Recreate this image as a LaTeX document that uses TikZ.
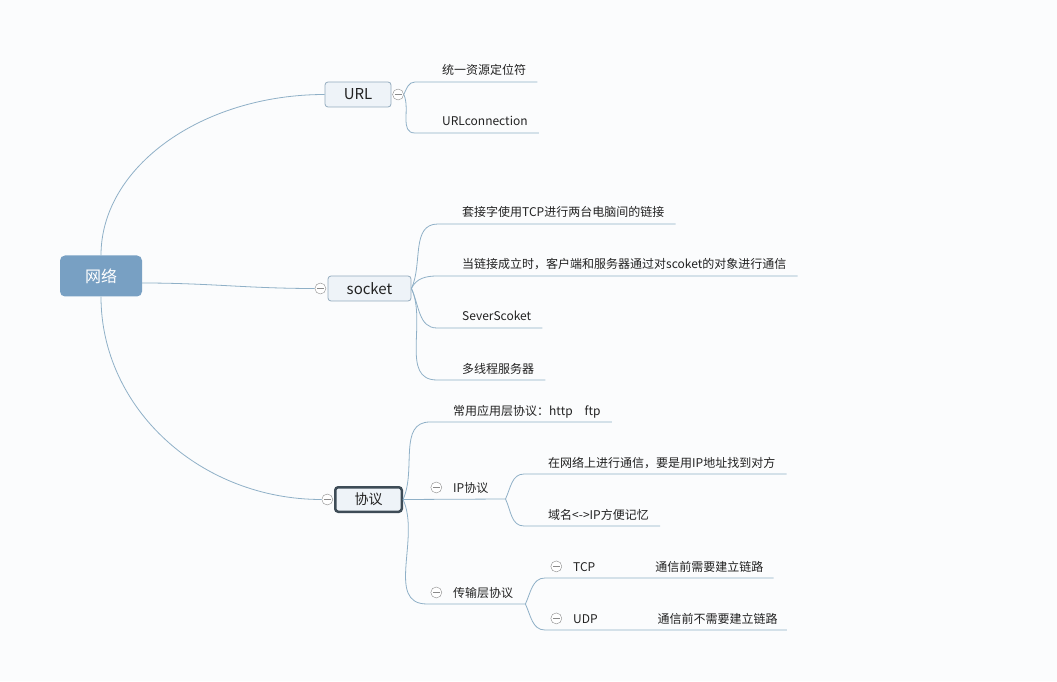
\documentclass[tikz,border=0pt]{standalone}
\usepackage{fontspec}
\setmainfont{Noto Sans CJK SC}
\usepackage{xcolor}
\usepackage{tikz}
\usetikzlibrary{positioning}

\definecolor{paper}{HTML}{FBFCFD}
\definecolor{linkline}{HTML}{8FB0C7}
\definecolor{rootfill}{HTML}{78A0C3}
\definecolor{topicfill}{HTML}{EEF3F8}
\definecolor{topicedge}{HTML}{93ABBE}
\definecolor{focusedge}{HTML}{3E4C57}
\definecolor{foldgray}{HTML}{8A8A8A}
\definecolor{leaftext}{HTML}{222222}

\begin{document}
\begin{tikzpicture}[x=1pt, y=1pt, font=\fontsize{12}{14}\selectfont,
  topic/.style={draw=topicedge, line width=0.8pt, fill=topicfill, rounded corners=3pt, inner sep=0pt,
    minimum height=25pt, text=leaftext, font=\fontsize{15}{18}\selectfont},
  leaf/.style={anchor=base west, inner sep=0pt, text=leaftext},
  foldmark/.style={circle, draw=foldgray, fill=white, inner sep=0pt, minimum size=11pt,
    path picture={\draw[foldgray, line width=0.7pt]
      ([xshift=-3.5pt]path picture bounding box.center) --
      ([xshift=3.5pt]path picture bounding box.center);}},
  twig/.style={draw=linkline, line width=0.8pt},
  rise/.style={out=65, in=180},
  sink/.style={out=-65, in=180}]
  \fill[paper] (0,0) rectangle (1057,681);
  \useasboundingbox (0,0) rectangle (1057,681);

  % centre and main topics
  \node[fill=rootfill, rounded corners=5pt, minimum width=82pt, minimum height=41pt,
    text=white, font=\fontsize{16}{19}\selectfont] (root) at (101,405) {网络};
  \node[topic, minimum width=66pt] (url) at (358,586.5) {URL};
  \node[topic, minimum width=83pt] (sock) at (369.5,392.5) {socket};
  \node[topic, draw=focusedge, line width=2.5pt, minimum width=66.5pt, minimum height=24.5pt,
    font=\fontsize{14}{17}\selectfont] (proto) at (368.5,181.5) {协议};
  \node[foldmark, right=1pt of url] (urlfold) {};
  \node[foldmark, left=1.5pt of sock] (sockfold) {};
  \node[foldmark, left=1pt of proto] (protofold) {};

  % URL
  \node[leaf] (u1) at (442,606) {统一资源定位符};
  \node[leaf] (u2) at (442,555) {URLconnection};
  % socket
  \node[leaf] (s1) at (462,464) {套接字使用TCP进行两台电脑间的链接};
  \node[leaf] (s2) at (462,412) {当链接成立时，客户端和服务器通过对scoket的对象进行通信};
  \node[leaf] (s3) at (462,360) {SeverScoket};
  \node[leaf] (s4) at (462,308) {多线程服务器};
  % 协议
  \node[leaf] (p1) at (453,266) {常用应用层协议：http　ftp};
  \node[leaf] (ip) at (453,189) {IP协议};
  \node[leaf] (i1) at (548,214) {在网络上进行通信，要是用IP地址找到对方};
  \node[leaf] (i2) at (548,162) {域名<->IP方便记忆};
  \node[leaf] (tr) at (453,84) {传输层协议};
  \node[leaf] (t1) at (573,110) {TCP\hspace*{60pt}通信前需要建立链路};
  \node[leaf] (t2) at (573,58) {UDP\hspace*{60pt}通信前不需要建立链路};
  \node[foldmark, left=11pt of ip] (ipfold) {};
  \node[foldmark, left=11pt of tr] (trfold) {};
  \node[foldmark, left=11pt of t1] (t1fold) {};
  \node[foldmark, left=11pt of t2] (t2fold) {};

  \draw[twig] (root.north) .. controls +(0,89) and +(-122,0) .. (url.west);
  \draw[twig] ([yshift=-7pt]root.east) to[out=0, in=180] (sockfold.west);
  \draw[twig] (root.south) .. controls +(0,-112) and +(-121,0) .. (protofold.west);

  \draw[twig] (urlfold.east) to[rise] ([shift={(-27pt,-7pt)}]u1.base west)
    -- ([shift={(11pt,-7pt)}]u1.base east);
  \draw[twig] (urlfold.east) to[sink] ([shift={(-27pt,-7pt)}]u2.base west)
    -- ([shift={(11pt,-7pt)}]u2.base east);

  \draw[twig] (sock.east) to[rise] ([shift={(-24pt,-7pt)}]s1.base west)
    -- ([shift={(11pt,-7pt)}]s1.base east);
  \draw[twig] (sock.east) to[rise] ([shift={(-25pt,-7pt)}]s2.base west)
    -- ([shift={(11pt,-7pt)}]s2.base east);
  \draw[twig] (sock.east) to[sink] ([shift={(-25pt,-7pt)}]s3.base west)
    -- ([shift={(11pt,-7pt)}]s3.base east);
  \draw[twig] (sock.east) to[sink] ([shift={(-25pt,-7pt)}]s4.base west)
    -- ([shift={(11pt,-7pt)}]s4.base east);

  \draw[twig] (proto.east) to[rise] ([shift={(-23pt,-7pt)}]p1.base west)
    -- ([shift={(11pt,-7pt)}]p1.base east);
  \draw[twig] (proto.east) -- ([shift={(17pt,-7pt)}]ip.base east);
  \draw[twig] (proto.east) to[sink] ([shift={(-26pt,-7pt)}]tr.base west)
    -- ([shift={(12pt,-7pt)}]tr.base east);

  \draw[twig] ([shift={(17pt,-7pt)}]ip.base east) to[rise] ([shift={(-24pt,-7pt)}]i1.base west)
    -- ([shift={(11pt,-7pt)}]i1.base east);
  \draw[twig] ([shift={(17pt,-7pt)}]ip.base east) to[sink] ([shift={(-24pt,-7pt)}]i2.base west)
    -- ([shift={(11pt,-7pt)}]i2.base east);

  \draw[twig] ([shift={(12pt,-7pt)}]tr.base east) to[rise] ([shift={(-28pt,-7pt)}]t1.base west)
    -- ([shift={(10pt,-7pt)}]t1.base east);
  \draw[twig] ([shift={(12pt,-7pt)}]tr.base east) to[sink] ([shift={(-28pt,-7pt)}]t2.base west)
    -- ([shift={(9pt,-7pt)}]t2.base east);
\end{tikzpicture}
\end{document}
